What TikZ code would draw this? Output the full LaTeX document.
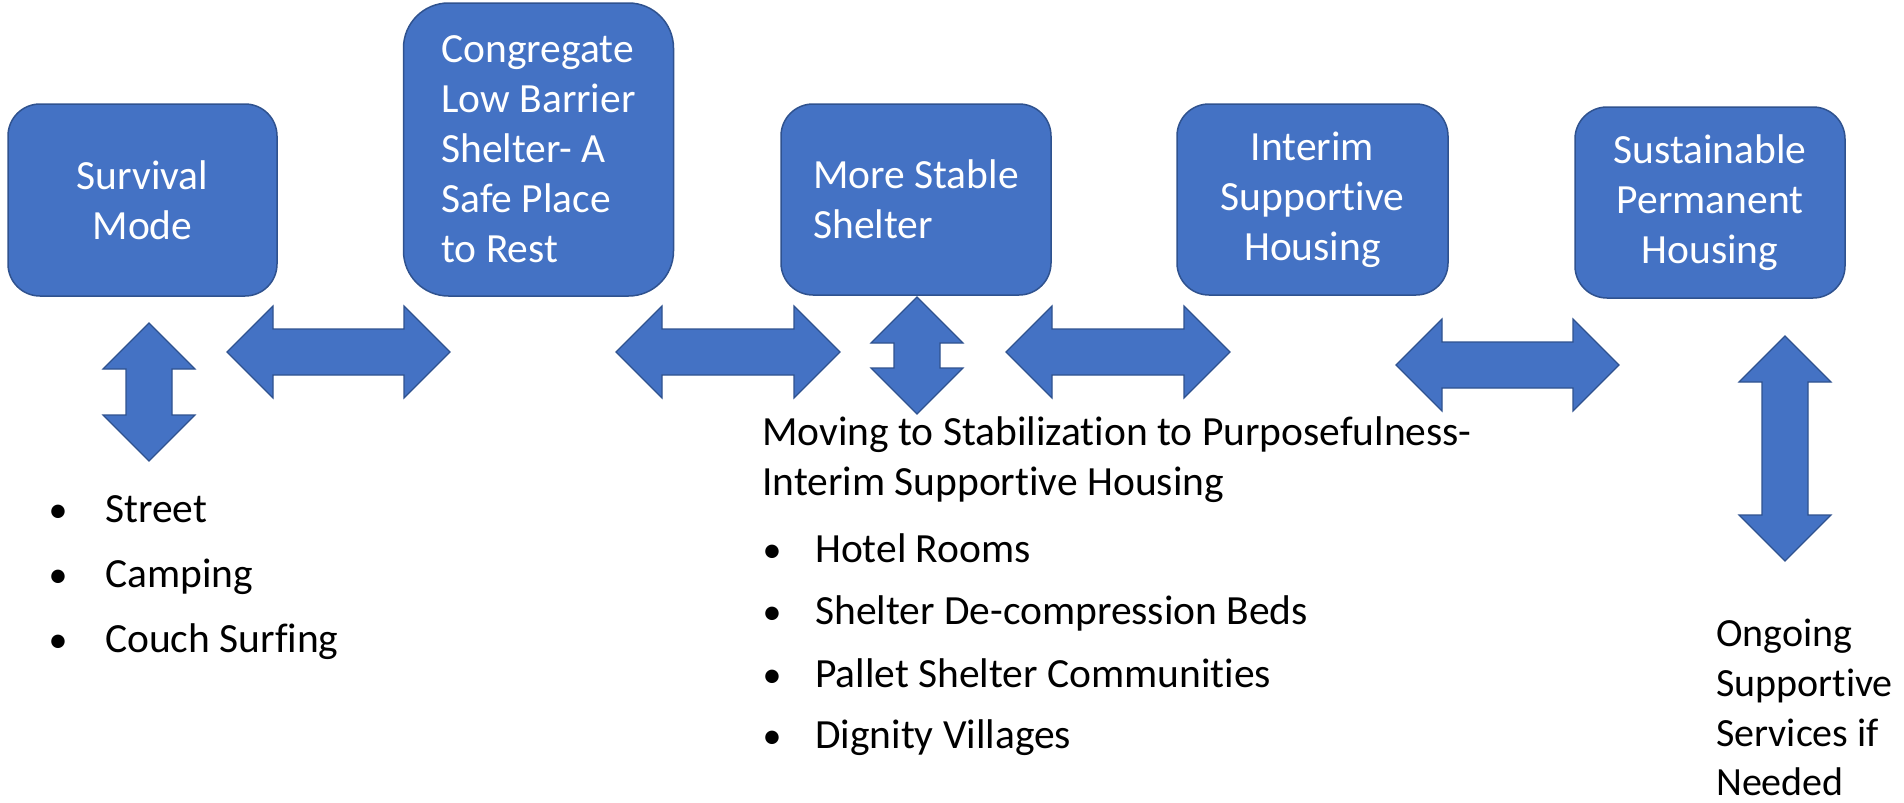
\documentclass[tikz,border=0pt]{standalone}
\usepackage{fontspec}
\setmainfont[Ligatures=NoCommon]{Carlito}
\definecolor{boxblue}{HTML}{4472C4}
\definecolor{edgeblue}{HTML}{2F528F}
\tikzset{
  stage/.style={rectangle, rounded corners=32pt, fill=boxblue, draw=edgeblue, line width=1.5pt,
    text=white, align=center, inner sep=0pt, minimum width=270pt, minimum height=191pt,
    font=\fontsize{41.5}{50}\selectfont},
  blockarrow/.style={fill=boxblue, draw=edgeblue, line width=1.2pt, line join=miter},
  itemtxt/.style={anchor=base west, inner sep=0pt, font=\fontsize{41.5}{50}\selectfont},
  bulletmark/.style={anchor=base, inner sep=0pt, font=\fontsize{38}{50}\selectfont}
}
% double block arrows: left tip x, right tip x, y
\newcommand{\harrow}[3]{%
  \pgfmathsetmacro{\shaftlen}{#2-#1-92}%
  \draw[blockarrow] (#1,#3) -- ++(46,-46) -- ++(0,23) -- ++(\shaftlen,0) -- ++(0,-23) -- ++(46,46)
    -- ++(-46,46) -- ++(0,-23) -- ++(-\shaftlen,0) -- ++(0,23) -- cycle;}
% x, top tip y, bottom tip y
\newcommand{\varrow}[3]{%
  \pgfmathsetmacro{\shaftlen}{#3-#2-92}%
  \draw[blockarrow] (#1,#2) -- ++(46,46) -- ++(-23,0) -- ++(0,\shaftlen) -- ++(23,0) -- ++(-46,46)
    -- ++(-46,-46) -- ++(23,0) -- ++(0,-\shaftlen) -- ++(-23,0) -- cycle;}
\begin{document}
\begin{tikzpicture}[x=1pt, y=-1pt]
\useasboundingbox (0,0) rectangle (1904,803);

% stages
\node[stage, minimum width=269pt, minimum height=192pt] (survival) at (142.5,200) {Survival\\Mode};
\node[stage, rounded corners=45pt, minimum height=293pt, align=left] (congregate) at (538.5,149.5) {Congregate\\Low Barrier\\Shelter- A\\Safe Place\\to Rest};
\node[stage, align=left] (stable) at (916,199.5) {More Stable\\Shelter};
\node[stage, minimum width=271pt] (interim) at (1312.5,199.5) {Interim\\Supportive\\Housing};
\node[stage] (permanent) at (1710,202.5) {Sustainable\\Permanent\\Housing};

% arrows
\harrow{227}{450}{352}
\harrow{616}{840}{352}
\harrow{1006}{1230}{352}
\harrow{1396}{1619}{365}
\varrow{149}{323}{461}
\varrow{917}{297}{414}
\varrow{1785}{336}{561}

% left list
\node[bulletmark] (b1) at (58,522) {•};
\node[itemtxt] (street) at (105,522) {Street};
\node[bulletmark] (b2) at (58,587) {•};
\node[itemtxt] (camping) at (105,587) {Camping};
\node[bulletmark] (b3) at (58,652) {•};
\node[itemtxt] (couch) at (105,652) {Couch Surfing};

% middle text
\node[itemtxt] (moving) at (762,445) {Moving to Stabilization to Purposefulness-};
\node[itemtxt] (interimtxt) at (762,495) {Interim Supportive Housing};
\node[bulletmark] (b4) at (772,562) {•};
\node[itemtxt] (hotel) at (815,562) {Hotel Rooms};
\node[bulletmark] (b5) at (772,624) {•};
\node[itemtxt] (decomp) at (815,624) {Shelter De-compression Beds};
\node[bulletmark] (b6) at (772,687) {•};
\node[itemtxt] (pallet) at (815,687) {Pallet Shelter Communities};
\node[bulletmark] (b7) at (772,748) {•};
\node[itemtxt] (dignity) at (815,748) {Dignity Villages};

% right text
\node[itemtxt, font=\fontsize{40}{50}\selectfont] (ongoing) at (1716,646) {Ongoing};
\node[itemtxt, font=\fontsize{40}{50}\selectfont] (supp) at (1716,696) {Supportive};
\node[itemtxt, font=\fontsize{40}{50}\selectfont] (serv) at (1716,746) {Services if};
\node[itemtxt, font=\fontsize{40}{50}\selectfont] (needed) at (1716,795) {Needed};
\end{tikzpicture}
\end{document}
